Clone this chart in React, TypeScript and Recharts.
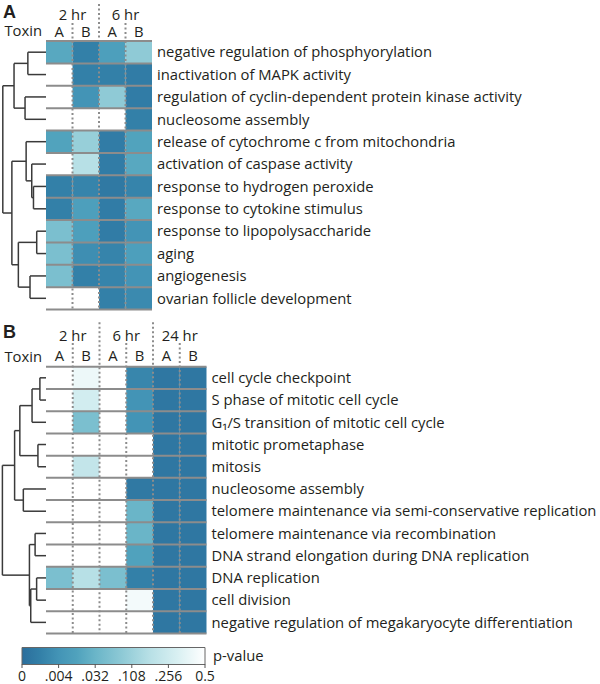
import React from "react";
import {
  Bar, BarChart, ComposedChart, Label, LabelList, ReferenceArea, ReferenceLine, Scatter, XAxis, YAxis,
} from "recharts";

const TOXINS = ["A", "B"];
const TIMES_A = ["2 hr", "6 hr"];
const TIMES_B = ["2 hr", "6 hr", "24 hr"];

const TERMS_A = [
  "negative regulation of phosphyorylation",
  "inactivation of MAPK activity",
  "regulation of cyclin-dependent protein kinase activity",
  "nucleosome assembly",
  "release of cytochrome c from mitochondria",
  "activation of caspase activity",
  "response to hydrogen peroxide",
  "response to cytokine stimulus",
  "response to lipopolysaccharide",
  "aging",
  "angiogenesis",
  "ovarian follicle development",
];

const TERMS_B = [
  "cell cycle checkpoint",
  "S phase of mitotic cell cycle",
  "G₁/S transition of mitotic cell cycle",
  "mitotic prometaphase",
  "mitosis",
  "nucleosome assembly",
  "telomere maintenance via semi-conservative replication",
  "telomere maintenance via recombination",
  "DNA strand elongation during DNA replication",
  "DNA replication",
  "cell division",
  "negative regulation of megakaryocyte differentiation",
];

// p-values per term; columns go 2hr A, 2hr B, 6hr A, 6hr B (, 24hr A, 24hr B)
const P_A = [
  [0.018, 0.0005, 0.011, 0.083],
  [0.5, 0.0005, 0.0005, 0.00026],
  [0.5, 0.004, 0.083, 0.00026],
  [0.5, 0.5, 0.5, 0.0005],
  [0.014, 0.098, 0.00026, 0.014],
  [0.5, 0.17, 0.00026, 0.018],
  [0.0005, 0.00086, 0.0001, 0.00086],
  [0.0005, 0.011, 0.00026, 0.018],
  [0.052, 0.011, 0.00026, 0.004],
  [0.052, 0.0025, 0.00086, 0.011],
  [0.052, 0.0005, 0.00086, 0.004],
  [0.5, 0.5, 0.0005, 0.0017],
];

const P_B = [
  [0.5, 0.40, 0.5, 0.0011, 0.00006, 0.00006],
  [0.5, 0.276, 0.5, 0.004, 0.00006, 0.00006],
  [0.5, 0.052, 0.5, 0.004, 0.00006, 0.00006],
  [0.5, 0.5, 0.5, 0.5, 0.00006, 0.00006],
  [0.5, 0.21, 0.5, 0.5, 0.00006, 0.00006],
  [0.5, 0.5, 0.5, 0.0001, 0.00006, 0.00006],
  [0.5, 0.5, 0.5, 0.032, 0.00006, 0.00006],
  [0.5, 0.5, 0.5, 0.032, 0.00006, 0.00006],
  [0.5, 0.5, 0.5, 0.0135, 0.00006, 0.00006],
  [0.052, 0.17, 0.052, 0.0005, 0.00006, 0.00006],
  [0.5, 0.5, 0.5, 0.43, 0.00006, 0.00006],
  [0.5, 0.5, 0.5, 0.5, 0.00006, 0.00006],
];

// linkage rows [left, right, height]; ids >= n point at earlier merges
const TREE_A = [
  [0, 1, 0.42], [2, 3, 0.485], [12, 13, 0.74],
  [6, 7, 0.29], [5, 15, 0.33], [4, 16, 0.46],
  [8, 9, 0.215], [10, 11, 0.37], [18, 19, 0.64],
  [17, 20, 0.79], [14, 21, 1.0],
];

const TREE_B = [
  [0, 1, 0.14], [12, 2, 0.32], [3, 4, 0.185], [13, 14, 0.6],
  [5, 6, 0.52], [15, 16, 0.72],
  [7, 8, 0.25], [9, 10, 0.215], [19, 11, 0.35], [18, 20, 0.38],
  [17, 21, 1.0],
];

const P_TICKS = [0, 0.004, 0.032, 0.108, 0.256, 0.5];
const P_TICK_LABELS = ["0", ".004", ".032", ".108", ".256", "0.5"];

const RAMP: [number, string][] = [
  [0, "#2b6e9c"], [0.1, "#3380a8"], [0.2, "#4394b6"], [0.3, "#50a2bd"],
  [0.4, "#6ab5c8"], [0.55, "#8fcad6"], [0.7, "#b8e0e6"], [0.85, "#d9f0f2"], [1, "#ffffff"],
];

const FONT = "'Open Sans', sans-serif";
const INK = "#231f20";
const GRID = "#8c8c8c";
const TREE_SPAN = 1.63; // dendrogram width, in heatmap columns
const FS = 14.8;

const pPos = (p: number) => Math.cbrt(p / 0.5);

function hex(c: string) {
  return [1, 3, 5].map((i) => parseInt(c.slice(i, i + 2), 16));
}

function pColor(p: number) {
  const t = Math.min(1, Math.max(0, pPos(p)));
  for (let i = 1; i < RAMP.length; i++) {
    if (t <= RAMP[i][0]) {
      const [t0, c0] = RAMP[i - 1];
      const [t1, c1] = RAMP[i];
      const f = (t - t0) / (t1 - t0);
      const a = hex(c0), b = hex(c1);
      return `rgb(${a.map((v, k) => Math.round(v + (b[k] - v) * f)).join(",")})`;
    }
  }
  return "#ffffff";
}

function treeSegments(n: number, links: number[][]) {
  const ys: number[] = [];
  const hs: number[] = [];
  for (let i = 0; i < n; i++) { ys.push(i + 0.5); hs.push(0); }
  const segs: { x: number; y: number }[][] = [];
  links.forEach(([a, b, d]) => {
    const x = -d * TREE_SPAN;
    for (const c of [a, b]) segs.push([{ x: -hs[c] * TREE_SPAN, y: ys[c] }, { x, y: ys[c] }]);
    segs.push([{ x, y: ys[a] }, { x, y: ys[b] }]);
    ys.push((ys[a] + ys[b]) / 2);
    hs.push(d);
  });
  return segs;
}

function Panel(props: any) {
  const { top, height, margin, labelWidth, terms, times, p, tree, colsH, colsGap, headTime, headTox, timeGap } = props;
  const n = terms.length;
  const ncol = p[0].length;
  const cells: { x: number; y: number; p: number }[] = [];
  p.forEach((r: number[], i: number) => r.forEach((v, j) => cells.push({ x: j + 0.5, y: i + 0.5, p: v })));
  const segs = treeSegments(n, tree);
  const tick = { fontSize: FS, fill: INK };
  return (
    <div style={{ position: "absolute", left: 0, top, width: 600, height }}>
      <ComposedChart width={600} height={height} margin={margin}>
        <XAxis
          xAxisId="cols" dataKey="x" type="number" orientation="top" domain={[0, ncol]} allowDataOverflow
          ticks={p[0].map((_: number, j: number) => j + 0.5)}
          tickFormatter={(v: number) => TOXINS[Math.floor(v) % TOXINS.length]}
          height={colsH} tickSize={0} tickMargin={colsGap} axisLine={false} tickLine={false} tick={tick} interval={0}
        >
          <Label value="Toxin" position="left" offset={4} fontSize={FS} fill={INK} />
        </XAxis>
        <YAxis
          yAxisId="rows" dataKey="y" type="number" orientation="right" domain={[0, n]} reversed allowDataOverflow
          ticks={terms.map((_: string, i: number) => i + 0.5)}
          tickFormatter={(v: number) => terms[Math.floor(v)]}
          width={labelWidth} axisLine={false} tickLine={false} tickSize={0} tickMargin={5} tick={tick} interval={0}
        />
        <Scatter data={cells} xAxisId="cols" yAxisId="rows" fill="none" fillOpacity={0} isAnimationActive={false} />
        {cells.map((c, k) => (
          <ReferenceArea
            key={"c" + k} xAxisId="cols" yAxisId="rows" ifOverflow="visible"
            x1={c.x - 0.5} x2={c.x + 0.5} y1={c.y - 0.5} y2={c.y + 0.5}
            fill={pColor(c.p)} fillOpacity={1} stroke="none"
          />
        ))}
        {Array.from({ length: n + 1 }, (_, k) => (
          <ReferenceLine key={"h" + k} xAxisId="cols" yAxisId="rows" y={k} stroke={GRID} strokeWidth={2} ifOverflow="visible" />
        ))}
        {Array.from({ length: ncol - 1 }, (_, k) => {
          const b = k + 1;
          const isTime = b % 2 === 0;
          return (
            <ReferenceLine
              key={"v" + k} xAxisId="cols" yAxisId="rows" ifOverflow="visible"
              segment={[{ x: b, y: isTime ? headTime : headTox }, { x: b, y: n }]}
              stroke={GRID} strokeWidth={2} strokeDasharray="2 2.5"
              label={isTime ? undefined : { value: times[(b - 1) / 2], position: "top", offset: timeGap, fontSize: FS, fill: INK }}
            />
          );
        })}
        {segs.map((s, k) => (
          <ReferenceLine key={"t" + k} xAxisId="cols" yAxisId="rows" ifOverflow="visible" segment={s} stroke="#3a3a3a" strokeWidth={1.5} />
        ))}
      </ComposedChart>
    </div>
  );
}

function ColorBar() {
  const data = [{ name: "p-value", v: 1 }];
  return (
    <div style={{ position: "absolute", left: 0, top: 640, width: 600, height: 44 }}>
      <BarChart width={600} height={44} layout="vertical" data={data} margin={{ top: 7.5, right: 395, bottom: 0, left: 22 }} barCategoryGap={0}>
        <defs>
          <linearGradient id="pgrad" x1="0" y1="0" x2="1" y2="0">
            {RAMP.map(([t, c]) => <stop key={t} offset={t} stopColor={c} />)}
          </linearGradient>
        </defs>
        <XAxis
          type="number" domain={[0, 1]} ticks={P_TICKS.map(pPos)}
          tickFormatter={(_: number, i: number) => P_TICK_LABELS[i]}
          height={20} tickSize={4} tickMargin={3} axisLine={false}
          tickLine={{ stroke: "#555" }} tick={{ fontSize: 14, fill: INK }} interval={0}
        />
        <YAxis type="category" dataKey="name" hide />
        <Bar dataKey="v" fill="url(#pgrad)" stroke="#666" strokeWidth={1} isAnimationActive={false}>
          <LabelList dataKey="name" position="right" offset={8} fontSize={FS} fill={INK} />
        </Bar>
      </BarChart>
    </div>
  );
}

export default function App() {
  const letter = {
    position: "absolute" as const, left: 3, fontWeight: 700, fontSize: 18, lineHeight: "18px",
    fontFamily: "'Liberation Sans', Arial, sans-serif",
  };
  return (
    <div style={{ position: "absolute", left: 0, top: 0, width: 600, height: 684, background: "#fff", fontFamily: FONT, color: INK }}>
      <Panel
        top={0} height={318} margin={{ top: 21, right: 8, bottom: 8.5, left: 46 }} labelWidth={440}
        terms={TERMS_A} times={TIMES_A} p={P_A} tree={TREE_A}
        colsH={20} colsGap={4} headTime={-1.65} headTox={-0.8} timeGap={3}
      />
      <Panel
        top={312} height={330} margin={{ top: 34.7, right: 3.5, bottom: 8.5, left: 46 }} labelWidth={390}
        terms={TERMS_B} times={TIMES_B} p={P_B} tree={TREE_B}
        colsH={20} colsGap={6} headTime={-2.0} headTox={-1.07} timeGap={1.5}
      />
      <ColorBar />
      <div style={{ ...letter, top: 3.1 }}>A</div>
      <div style={{ ...letter, top: 323.1 }}>B</div>
    </div>
  );
}
